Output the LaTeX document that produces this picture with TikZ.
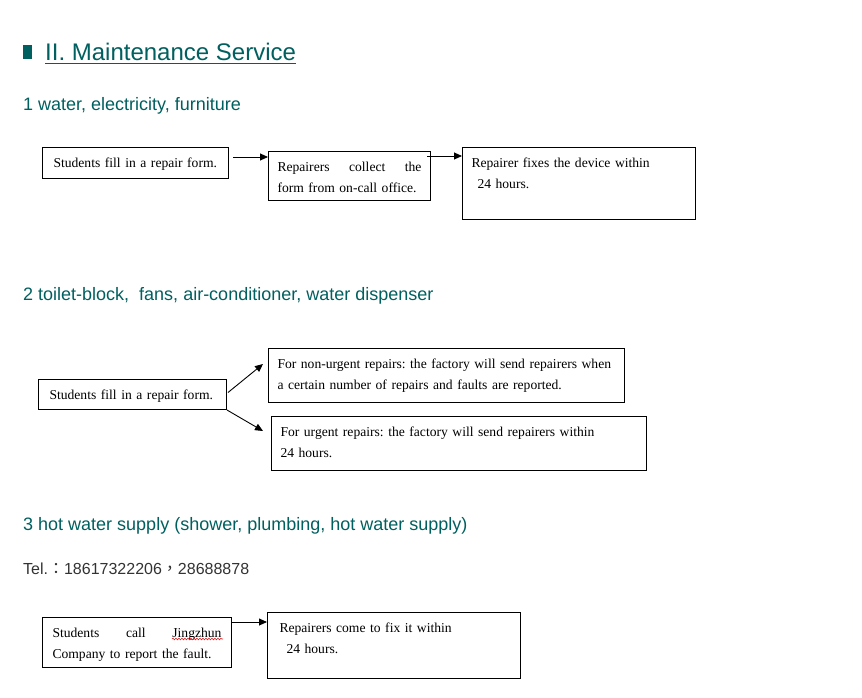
\documentclass[tikz,border=0pt]{standalone}
\usepackage{fontspec}
\setmainfont{Liberation Serif}
\newfontfamily\headfont{Liberation Sans}
\newfontfamily\cjk{Noto Sans CJK TC}
\usepackage{tikz}
\usetikzlibrary{arrows.meta,positioning,calc,decorations.pathmorphing}
\hyphenpenalty=10000
\exhyphenpenalty=10000
\frenchspacing
\definecolor{headteal}{HTML}{005F5F}
\definecolor{telgray}{HTML}{333333}
\definecolor{spellred}{HTML}{E02020}
\tikzset{
  card/.style={draw=black,line width=1pt,anchor=north west,align=left,
               inner xsep=9pt,inner ysep=0pt,text height=20pt,
               font=\fontsize{13.6}{20.5}\selectfont},
  heading/.style={anchor=base west,inner sep=0pt,color=headteal,
                  font=\headfont\fontsize{18}{20}\selectfont},
  flowarr/.style={-{Triangle[length=8pt,width=7pt]},line width=0.9pt},
  spellmark/.style={draw=spellred,line width=0.6pt,decorate,
                    decoration={snake,amplitude=0.8pt,segment length=3pt}}
}
\begin{document}
\begin{tikzpicture}[x=1pt,y=-1pt]
  \path[use as bounding box,fill=white] (0,0) rectangle (862,697);

  % title
  \fill[headteal] (23,45) rectangle (32,59);
  \node[heading,font=\headfont\fontsize{24}{28}\selectfont] (title) at (45,60)
    {II. Maintenance Service};
  \draw[headteal,line width=1.4pt] ($(title.base west)+(0,3.5)$) -- ($(title.base east)+(0,3.5)$);

  % 1
  \node[heading] (sec1) at (23,110) {1 water, electricity, furniture};
  \node[card,inner xsep=11pt,text width=164pt,text depth=11pt] (fill1) at (42,147)
    {Students fill in a repair form.};
  \node[card,text width=144pt,text depth=29pt] (collect) at (268,151)
    {Repairers\hfill collect\hfill the\\form from on-call office.};
  \node[card,text width=215pt,text depth=52pt] (fix) at (462,147)
    {Repairer fixes the device within\\\hspace*{6pt}24 hours.};
  \draw[flowarr] ($(collect.north west)+(-35,6)$) -- ($(collect.north west)+(0,6)$);
  \draw[flowarr] ($(fix.north west)+(-35,9)$) -- ($(fix.north west)+(0,9)$);

  % 2
  \node[heading] (sec2) at (23,300)
    {2 toilet-block,\ \ fans, air-conditioner, water dispenser};
  \node[card,inner xsep=11pt,text width=166pt,text depth=10pt] (fill2) at (38,379)
    {Students fill in a repair form.};
  \node[card,inner xsep=9pt,text width=338pt,text depth=34pt] (nonurgent) at (268,348)
    {For non-urgent repairs: the factory will send repairers when\\a certain number of repairs and faults are reported.};
  \node[card,text width=357pt,text depth=34pt] (urgent) at (271,416)
    {For urgent repairs: the factory will send repairers within\\24 hours.};
  \draw[flowarr] ($(fill2.east)+(1,-2)$) -- ($(nonurgent.north west)+(-5,16)$);
  \draw[flowarr] (fill2.south east) -- ($(urgent.north west)+(-8,15)$);

  % 3
  \node[heading] (sec3) at (23,530)
    {3 hot water supply (shower, plumbing, hot water supply)};
  \node[heading,color=telgray,font=\headfont\fontsize{16}{20}\selectfont] (tel) at (23,574)
    {Tel.{\cjk ：}18617322206{\cjk ，}28688878};
  \node[card,inner xsep=10pt,text width=169pt,text depth=30pt] (call) at (42,617)
    {Students\hfill call\hfill Jingzhun\\Company to report the fault.};
  \node[card,inner xsep=12pt,text width=229pt,text depth=46pt] (come) at (267,612)
    {Repairers come to fix it within\\\hspace*{7pt}24 hours.};
  \draw[spellmark] ($(call.north west)+(130,22)$) -- ($(call.north west)+(181,22)$);
  \draw[flowarr] ($(call.north east)+(0,5)$) -- ($(come.north west)+(0,10)$);
\end{tikzpicture}
\end{document}
